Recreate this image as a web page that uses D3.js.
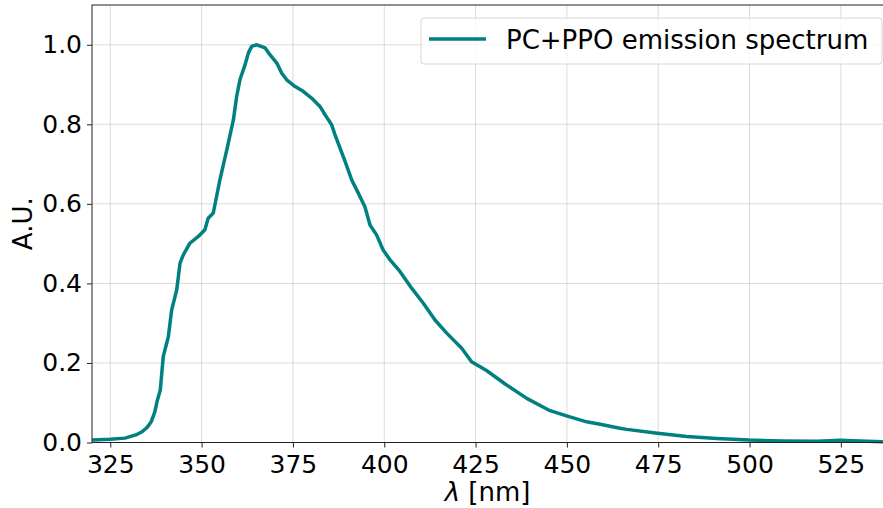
<!DOCTYPE html>
<html>
<head>
<meta charset="utf-8">
<script src="https://cdn.jsdelivr.net/npm/d3@7"></script>
<style>
  body { margin: 0; background: #fff; }
  svg { display: block; font-family: "DejaVu Sans", sans-serif; }
</style>
</head>
<body>
<div id="chart"></div>
<script>
// data
const wavelength = [320, 325, 329, 332, 333.7, 335.1, 336.2, 337.2, 337.8, 338.7,
  339.5, 340.9, 341.8, 343.2, 344.1, 345.0, 346.8, 349.1, 350.9, 351.8, 353.2,
  355.0, 356.9, 358.7, 359.6, 360.5, 361.9, 362.8, 363.7, 365.1, 367.4, 368.7,
  370.6, 371.9, 373.3, 375.6, 377.8, 380.1, 382.4, 383.8, 385.6, 386.5, 387.9,
  389.3, 391.1, 392.9, 394.7, 396.1, 397.9, 399.7, 401.6, 404.3, 407.5, 410.7,
  413.9, 417.1, 421.2, 423.9, 428.0, 433.1, 439.0, 445.4, 449.9, 455.4, 459.1,
  464.5, 466.4, 474.8, 482.8, 491.0, 499.8, 509.2, 518.4, 524.8, 530.2, 536.5];
const intensity = [0.006, 0.008, 0.011, 0.019, 0.027, 0.038, 0.052, 0.077, 0.103, 0.132,
  0.216, 0.266, 0.333, 0.384, 0.451, 0.472, 0.501, 0.518, 0.535, 0.564, 0.577,
  0.660, 0.736, 0.811, 0.870, 0.912, 0.950, 0.979, 0.996, 1.000, 0.992, 0.975,
  0.954, 0.929, 0.912, 0.895, 0.883, 0.866, 0.845, 0.824, 0.799, 0.774, 0.740,
  0.706, 0.660, 0.627, 0.593, 0.547, 0.522, 0.484, 0.459, 0.430, 0.388, 0.350,
  0.308, 0.275, 0.237, 0.203, 0.181, 0.147, 0.111, 0.080, 0.067, 0.052, 0.046,
  0.036, 0.033, 0.023, 0.015, 0.010, 0.006, 0.004, 0.003, 0.0055, 0.004, 0.002];
const xTicks = [325, 350, 375, 400, 425, 450, 475, 500, 525];
const yTicks = [0.0, 0.2, 0.4, 0.6, 0.8, 1.0];
const seriesName = "PC+PPO emission spectrum";

const W = 883, H = 508;
const plot = { left: 92, right: 884, top: 5, bottom: 442.5 };

const svg = d3.select("#chart").append("svg")
  .attr("width", W)
  .attr("height", H);

const x = d3.scaleLinear()
  .domain([320, 320 + (plot.right - plot.left) / 3.653])
  .range([plot.left, plot.right]);
const y = d3.scaleLinear()
  .domain([0, 1.1])
  .range([plot.bottom, plot.top]);

// grid
svg.append("g")
  .selectAll("line")
  .data(xTicks)
  .join("line")
  .attr("x1", d => x(d)).attr("x2", d => x(d))
  .attr("y1", plot.top).attr("y2", plot.bottom)
  .attr("stroke", "#b0b0b0").attr("stroke-opacity", 0.45).attr("stroke-width", 1);
svg.append("g")
  .selectAll("line")
  .data(yTicks)
  .join("line")
  .attr("x1", plot.left).attr("x2", plot.right)
  .attr("y1", d => y(d)).attr("y2", d => y(d))
  .attr("stroke", "#b0b0b0").attr("stroke-opacity", 0.45).attr("stroke-width", 1);

// line
const pts = wavelength.map((w, i) => ({ w: w, v: intensity[i] }));
const line = d3.line()
  .x(d => x(d.w))
  .y(d => y(d.v));
svg.append("path")
  .datum(pts)
  .attr("d", line)
  .attr("fill", "none")
  .attr("stroke", "#008080")
  .attr("stroke-width", 3.5)
  .attr("stroke-linejoin", "round");

// frame (right side runs off the picture)
svg.append("rect")
  .attr("x", plot.left).attr("y", plot.top)
  .attr("width", plot.right - plot.left).attr("height", plot.bottom - plot.top)
  .attr("fill", "none").attr("stroke", "#222").attr("stroke-width", 1);

// axes
const xAxis = svg.append("g")
  .attr("transform", `translate(0,${plot.bottom})`)
  .call(d3.axisBottom(x).tickValues(xTicks).tickSize(5).tickPadding(8).tickFormat(d3.format("d")));
const yAxis = svg.append("g")
  .attr("transform", `translate(${plot.left},0)`)
  .call(d3.axisLeft(y).tickValues(yTicks).tickSize(5).tickPadding(5).tickFormat(d3.format(".1f")));
[xAxis, yAxis].forEach(a => {
  a.select(".domain").remove();
  a.selectAll(".tick line").attr("stroke", "#222");
  a.selectAll("text")
    .attr("fill", "#000")
    .style("font-size", "25px")
    .style("font-family", "DejaVu Sans, sans-serif");
});

// axis labels
const xl = svg.append("text")
  .attr("x", (plot.left + 883) / 2)
  .attr("y", 501)
  .attr("text-anchor", "middle")
  .style("font-size", "26px");
xl.append("tspan").attr("font-style", "italic").text("λ");
xl.append("tspan").text(" [nm]");

svg.append("text")
  .attr("transform", `translate(32,${(plot.top + plot.bottom) / 2}) rotate(-90)`)
  .attr("text-anchor", "middle")
  .style("font-size", "26px")
  .text("A.U.");

// legend
const legend = svg.append("g");
legend.append("rect")
  .attr("x", 421).attr("y", 18)
  .attr("width", 461).attr("height", 46)
  .attr("rx", 3)
  .attr("fill", "#fff").attr("fill-opacity", 0.8)
  .attr("stroke", "#d6d6d6");
legend.append("line")
  .attr("x1", 429).attr("x2", 486)
  .attr("y1", 39).attr("y2", 39)
  .attr("stroke", "#008080").attr("stroke-width", 3.5);
legend.append("text")
  .attr("x", 506).attr("y", 49)
  .style("font-size", "26px")
  .text(seriesName);
</script>
</body>
</html>
